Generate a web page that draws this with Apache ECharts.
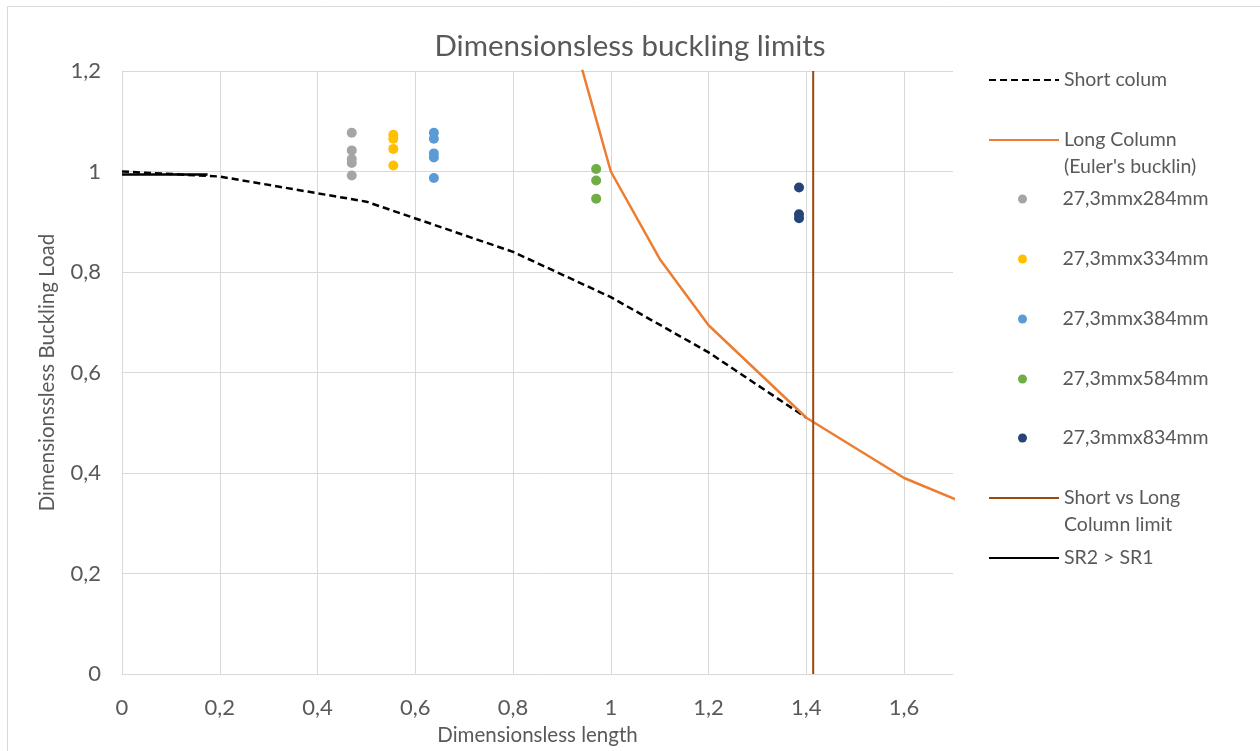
<!DOCTYPE html>
<html>
<head>
<meta charset="utf-8">
<script src="https://cdn.jsdelivr.net/npm/echarts@6/dist/echarts.min.js"></script>
<style>html,body{margin:0;padding:0;background:#fff}#c{width:1260px;height:751px}</style>
</head>
<body>
<div id="c"></div>
<script>
// ---- data ----
const shortX = [0, 0.2, 0.5, 0.8, 1, 1.2, 1.4];
const shortY = [1, 0.99, 0.94, 0.84, 0.75, 0.64, 0.51];
const longX = [0.7, 1, 1.1, 1.2, 1.4, 1.6, 1.8];
const longY = [2.04, 1, 0.826, 0.694, 0.51, 0.39, 0.309];
const limitX = [1.414, 1.414];
const limitY = [0, 1.2];
const sr2X = [0, 0.175];
const sr2Y = [0.994, 0.994];
const s284X = [0.47, 0.47, 0.47, 0.47, 0.47];
const s284Y = [1.077, 1.042, 1.025, 1.017, 0.992];
const s334X = [0.555, 0.555, 0.555, 0.555];
const s334Y = [1.073, 1.065, 1.045, 1.012];
const s384X = [0.638, 0.638, 0.638, 0.638, 0.638];
const s384Y = [1.077, 1.065, 1.036, 1.028, 0.987];
const s584X = [0.97, 0.97, 0.97];
const s584Y = [1.005, 0.982, 0.946];
const s834X = [1.385, 1.385, 1.385];
const s834Y = [0.968, 0.915, 0.907];
const seriesNames = ['Short colum', "Long Column\n(Euler's bucklin)", '27,3mmx284mm', '27,3mmx334mm',
  '27,3mmx384mm', '27,3mmx584mm', '27,3mmx834mm', 'Short vs Long\nColumn limit', 'SR2 > SR1'];

const zip = (a, b) => a.map((v, i) => [v, b[i]]);
const FONT = 'Lato';
const TXT = '#595959';
const comma = v => String(v).replace('.', ',');

const lineSeries = (name, xs, ys, color, width, type) => ({
  name, type: 'line', data: zip(xs, ys), symbol: 'none', showSymbol: false,
  lineStyle: { color, width, type: type || 'solid' }, itemStyle: { color },
  clip: true, animation: false, z: 2
});
const scatterSeries = (name, xs, ys, color) => ({
  name, type: 'scatter', data: zip(xs, ys), symbol: 'circle', symbolSize: 10,
  itemStyle: { color, opacity: 1 }, animation: false, z: 3
});

const legendCenters = [80, 140, 199, 259, 319, 379, 438, 498, 558];
const LH = 27;
const legends = seriesNames.map((n, i) => {
  const isScatter = i >= 2 && i <= 6;
  const twoLine = n.indexOf('\n') >= 0;
  const ih = isScatter ? 9 : 14;
  const boxH = twoLine ? LH * 3 : LH;
  return {
    data: [{ name: n }],
    orient: 'vertical', left: isScatter ? 1018 : 988, top: legendCenters[i] - boxH / 2, padding: 0,
    itemWidth: 70, itemHeight: ih, itemGap: 6, selectedMode: false,
    itemStyle: isScatter ? { opacity: 1 } : { opacity: 0 },
    formatter: twoLine ? (name => '\n' + name) : (name => name),
    textStyle: { fontFamily: FONT, fontSize: 19.5, color: TXT, lineHeight: LH }
  };
});

const chart = echarts.init(document.getElementById('c'), null, { renderer: 'canvas' });
chart.setOption({
  animation: false,
  backgroundColor: '#fff',
  title: { text: 'Dimensionsless buckling limits', left: 'center', top: 26,
    textStyle: { fontFamily: FONT, fontSize: 29.5, fontWeight: 'normal', color: TXT } },
  graphic: [{ type: 'rect', shape: { x: 7.5, y: 6.5, width: 1300, height: 800 },
    style: { fill: 'none', stroke: '#D9D9D9', lineWidth: 1 }, silent: true, z: -10 }],
  grid: { left: 122, top: 71, right: 307, bottom: 75 },
  xAxis: {
    type: 'value', min: 0, max: 1.7, interval: 0.2,
    name: 'Dimensionsless length', nameLocation: 'middle', nameGap: 51,
    nameTextStyle: { fontFamily: FONT, fontSize: 20.5, color: TXT },
    axisLine: { show: true, lineStyle: { color: '#D9D9D9', width: 1 } },
    axisTick: { show: false },
    axisLabel: { fontFamily: FONT, fontSize: 22, color: TXT, margin: 23, showMaxLabel: false,
      formatter: v => comma(+v.toFixed(1)) },
    splitLine: { show: true, showMaxLine: false, lineStyle: { color: '#D9D9D9', width: 1 } }
  },
  yAxis: {
    type: 'value', min: 0, max: 1.2, interval: 0.2,
    name: 'Dimensionssless Buckling Load', nameLocation: 'middle', nameGap: 64,
    nameTextStyle: { fontFamily: FONT, fontSize: 20.5, color: TXT },
    axisLine: { show: true, lineStyle: { color: '#D9D9D9', width: 1 } },
    axisTick: { show: false },
    axisLabel: { fontFamily: FONT, fontSize: 22, color: TXT, margin: 21,
      formatter: v => comma(+v.toFixed(1)) },
    splitLine: { show: true, lineStyle: { color: '#D9D9D9', width: 1 } }
  },
  legend: legends,
  series: [
    lineSeries(seriesNames[0], shortX, shortY, '#000000', 2.5, [7, 4]),
    lineSeries(seriesNames[1], longX, longY, '#ED7D31', 2.5),
    scatterSeries(seriesNames[2], s284X, s284Y, '#A5A5A5'),
    scatterSeries(seriesNames[3], s334X, s334Y, '#FFC000'),
    scatterSeries(seriesNames[4], s384X, s384Y, '#5B9BD5'),
    scatterSeries(seriesNames[5], s584X, s584Y, '#70AD47'),
    scatterSeries(seriesNames[6], s834X, s834Y, '#264478'),
    lineSeries(seriesNames[7], limitX, limitY, '#9E480E', 2),
    lineSeries(seriesNames[8], sr2X, sr2Y, '#000000', 2.5)
  ]
});
</script>
</body>
</html>
